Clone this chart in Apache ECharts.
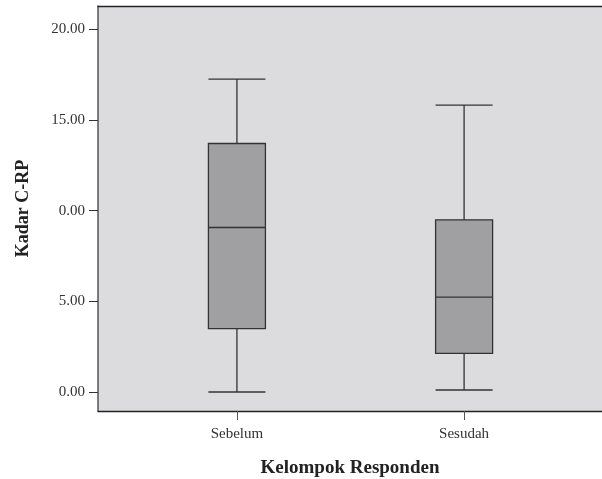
<!DOCTYPE html>
<html><head><meta charset="utf-8">
<script src="https://cdn.jsdelivr.net/npm/echarts@6/dist/echarts.min.js"></script>
<style>html,body{margin:0;padding:0;background:#fff}#c{width:602px;height:479px}</style>
</head><body><div id="c"></div>
<script>
const categories = ['Sebelum', 'Sesudah'];
const categoryPositions = [1, 2];
// [min, Q1, median, Q3, max]
const sebelum = [0.0, 3.49, 9.07, 13.70, 17.25];
const sesudah = [0.11, 2.13, 5.23, 9.49, 15.81];
const yTickValues = [0, 5, 10, 15, 20];
const yTickLabels = ['0.00', '5.00', '0.00', '15.00', '20.00'];
const xTitle = 'Kelompok Responden';
const yTitle = 'Kadar C-RP';

const boxes = [sebelum, sesudah];
const seriesData = boxes.map((b, i) => [categoryPositions[i]].concat(b));
const FONT = '"Liberation Serif", "DejaVu Serif", serif';
const X_MIN = 0.3885, X_MAX = 2.607;

const chart = echarts.init(document.getElementById('c'));
chart.setOption({
  animation: false,
  backgroundColor: '#fff',
  grid: {
    left: 98, right: 0, top: 6, bottom: 68,
    outerBoundsMode: 'none', containLabel: false,
    show: true, backgroundColor: '#dcdcde', borderWidth: 0
  },
  xAxis: [{
    type: 'value', min: X_MIN, max: X_MAX, position: 'bottom',
    name: xTitle, nameLocation: 'middle', nameGap: 48,
    nameTextStyle: { fontFamily: FONT, fontSize: 19, fontWeight: 'bold', color: '#222' },
    splitLine: { show: false },
    axisLine: { show: true, onZero: false, lineStyle: { color: '#222', width: 1.3 } },
    axisTick: { show: true, length: 9, customValues: categoryPositions, lineStyle: { color: '#555' } },
    axisLabel: {
      customValues: categoryPositions, margin: 16,
      fontFamily: FONT, fontSize: 15, color: '#333',
      formatter: v => categories[categoryPositions.indexOf(Math.round(v))] || ''
    }
  }, {
    type: 'value', min: X_MIN, max: X_MAX, position: 'top',
    splitLine: { show: false },
    axisLine: { show: true, onZero: false, lineStyle: { color: '#222', width: 1.3 } },
    axisTick: { show: false }, axisLabel: { show: false }
  }],
  yAxis: {
    type: 'value', min: -1.047, max: 21.28,
    name: yTitle, nameLocation: 'middle', nameGap: 66, nameRotate: 90,
    nameTextStyle: { fontFamily: FONT, fontSize: 18, fontWeight: 'bold', color: '#222' },
    splitLine: { show: false },
    axisLine: { show: true, onZero: false, lineStyle: { color: '#555', width: 1.5 } },
    axisTick: { show: true, length: 9, customValues: yTickValues, lineStyle: { color: '#333' } },
    axisLabel: {
      customValues: yTickValues, margin: 13,
      fontFamily: FONT, fontSize: 15, color: '#333',
      formatter: v => yTickLabels[yTickValues.indexOf(Math.round(v))] || ''
    }
  },
  series: [{
    type: 'boxplot',
    xAxisIndex: 0,
    data: seriesData,
    boxWidth: [57, 57],
    itemStyle: { color: '#a0a0a2', borderColor: '#333', borderWidth: 1.3 },
    emphasis: { disabled: true }
  }]
});
</script></body></html>
